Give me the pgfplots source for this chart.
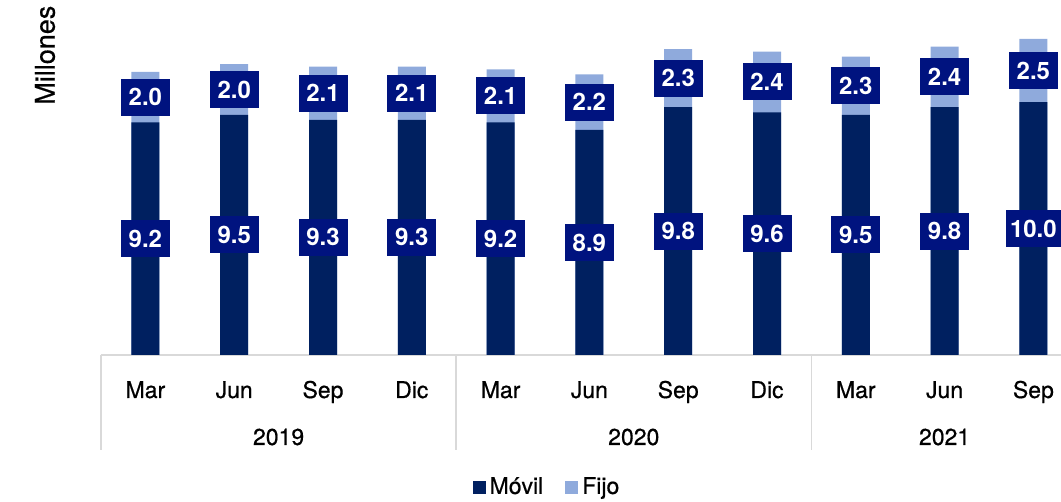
\documentclass[border=0pt]{standalone}
\usepackage{fontspec}
\setmainfont{TeX Gyre Heros}
\newfontfamily\medfont{TeX Gyre Heros}[FakeBold=0.6]
\usepackage{pgfplots}
\pgfplotsset{compat=1.18}
\definecolor{movil}{HTML}{002060}
\definecolor{fijo}{HTML}{8FAADC}
\definecolor{boxblue}{HTML}{00137F}
\definecolor{axisgray}{HTML}{D9D9D9}
\newcommand{\ticksz}{\medfont\fontsize{11.5}{13}\selectfont}

\begin{document}
\begin{tikzpicture}
\begin{axis}[
  at={(0pt,0pt)}, anchor=south west,
  width=488.4pt, height=177pt, scale only axis,
  xmin=-0.5, xmax=10.5, ymin=0, ymax=14,
  axis x line*=bottom, axis y line=none, ytick=\empty,
  x axis line style={draw=axisgray, line width=1pt},
  xtick={0,...,10},
  xticklabels={Mar,Jun,Sep,Dic,Mar,Jun,Sep,Dic,Mar,Jun,Sep},
  xtick style={draw=none},
  xticklabel style={anchor=base, yshift=-21.5pt, font=\ticksz},
  clip=false,
  legend style={at={(0.4576,-0.373)}, anchor=center, draw=none, fill=none,
    legend columns=2, font=\ticksz,
    /tikz/every even column/.append style={column sep=9pt}},
  legend image code/.code={\fill[#1, draw=none] (0pt,-3.25pt) rectangle (6.5pt,3.25pt);},
]
% total height first (light), then Movil on top of it
\addplot[ybar, bar width=14pt, bar shift=0pt, fill=fijo, draw=none, forget plot]
  coordinates {(0,11.2)(1,11.5)(2,11.4)(3,11.4)(4,11.3)(5,11.1)(6,12.1)(7,12.0)(8,11.8)(9,12.2)(10,12.5)};
\addplot[ybar, bar width=14pt, bar shift=0pt, fill=movil, draw=none, forget plot]
  coordinates {(0,9.2)(1,9.5)(2,9.3)(3,9.3)(4,9.2)(5,8.9)(6,9.8)(7,9.6)(8,9.5)(9,9.8)(10,10.0)};
% value boxes, centred on each segment
\addplot[draw=none, mark=none, forget plot, nodes near coords, point meta=explicit symbolic,
  nodes near coords style={anchor=center, fill=boxblue, text=white,
    font=\fontsize{12}{14}\bfseries, inner xsep=2pt, inner ysep=1pt,
    minimum width=24.5pt, minimum height=18.5pt}]
  table[meta=lab] {
x y lab
0 4.6 9.2
1 4.75 9.5
2 4.65 9.3
3 4.65 9.3
4 4.6 9.2
5 4.45 8.9
6 4.9 9.8
7 4.8 9.6
8 4.75 9.5
9 4.9 9.8
10 5.0 10.0
0 10.2 2.0
1 10.5 2.0
2 10.35 2.1
3 10.35 2.1
4 10.25 2.1
5 10.0 2.2
6 10.95 2.3
7 10.8 2.4
8 10.65 2.3
9 11.0 2.4
10 11.25 2.5
};
\addlegendimage{fill=movil}
\addlegendentry{Móvil}
\addlegendimage{fill=fijo}
\addlegendentry{Fijo}
% group separators and years
\pgfplotsinvokeforeach{-0.5,3.5,7.5,10.5}{
  \draw[axisgray, line width=0.75pt] (axis cs:#1,0) -- ++(0pt,-47.5pt);
}
\node[font=\ticksz, anchor=base] at ([yshift=-45pt]axis cs:1.5,0) {2019};
\node[font=\ticksz, anchor=base] at ([yshift=-45pt]axis cs:5.5,0) {2020};
\node[font=\ticksz, anchor=base] at ([yshift=-45pt]axis cs:9,0) {2021};
\node[font=\medfont\fontsize{13.5}{15}\selectfont, rotate=90] at (axis description cs:-0.0573,0.847) {Millones};
\end{axis}
\pgfresetboundingbox
\useasboundingbox (-50.5pt,-73.5pt) rectangle (480pt,177.5pt);
\end{tikzpicture}
\end{document}
